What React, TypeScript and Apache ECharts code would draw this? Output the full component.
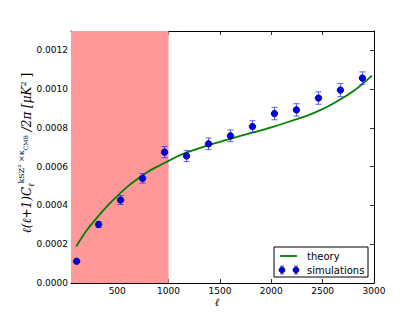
import React, { useEffect, useRef } from "react";
import * as echarts from "echarts";

const simEll = [105, 319, 533, 747, 961, 1175, 1389, 1603, 1817, 2031, 2245, 2459, 2673, 2887];
const simValues = [0.000112, 0.000302, 0.000428, 0.00054, 0.000675, 0.000655, 0.000718, 0.000759, 0.000807, 0.000874, 0.000893, 0.000954, 0.000995, 0.001057];
const simErrors = [0.000006, 0.000015, 0.000023, 0.000025, 0.000029, 0.000028, 0.00003, 0.00003, 0.00003, 0.000032, 0.000032, 0.000032, 0.000034, 0.000032];

const theoryEll = [100, 200, 300, 400, 500, 600, 700, 800, 900, 1000, 1100, 1200, 1400, 1600, 1800, 2000, 2200, 2400, 2600, 2800, 2980];
const theoryValues = [0.000188, 0.00027, 0.000335, 0.000395, 0.000448, 0.000497, 0.000538, 0.000574, 0.000603, 0.00063, 0.000657, 0.000678, 0.000713, 0.000744, 0.000773, 0.000803, 0.000837, 0.000874, 0.000925, 0.00099, 0.00107];

const shadedRange = [50, 1000];
const xTicks = [500, 1000, 1500, 2000, 2500, 3000];
const xRange = [50, 3000];
const yRange = [0, 0.0013];

export default function App() {
  const ref = useRef<HTMLDivElement>(null);
  useEffect(() => {
    if (!ref.current) return;
    const chart = echarts.init(ref.current, null, { renderer: "svg" });
    const tickFont = { fontFamily: "DejaVu Sans", fontSize: 9, color: "#000" };
    const mkLine = () => ({ show: true, onZero: false, lineStyle: { color: "#000", width: 1 } });
    const mkTick = (extra: any = {}) => ({ show: true, inside: true, length: 4, lineStyle: { color: "#000", width: 0.8 }, ...extra });
    const option: any = {
      animation: false,
      backgroundColor: "#fff",
      grid: { left: 71, right: 41, top: 31, bottom: 31, containLabel: false },
      xAxis: [
        {
          type: "value", min: xRange[0], max: xRange[1], position: "bottom",
          axisLine: mkLine(), axisTick: mkTick({ customValues: xTicks }),
          axisLabel: { ...tickFont, margin: 3, customValues: xTicks, formatter: (v: number) => String(v) },
          splitLine: { show: false },
        },
        {
          type: "value", min: xRange[0], max: xRange[1], position: "top",
          axisLine: mkLine(), axisTick: mkTick({ customValues: xTicks, inside: false, length: -4 }),
          axisLabel: { show: false }, splitLine: { show: false },
        },
      ],
      yAxis: [
        {
          type: "value", min: yRange[0], max: yRange[1], interval: 0.0002, position: "left",
          axisLine: mkLine(), axisTick: mkTick(),
          axisLabel: { ...tickFont, margin: 3, showMaxLabel: false, formatter: (v: number) => v.toFixed(4) },
          splitLine: { show: false },
        },
        {
          type: "value", min: yRange[0], max: yRange[1], interval: 0.0002, position: "right",
          axisLine: mkLine(), axisTick: mkTick({ inside: false, length: -4 }), axisLabel: { show: false }, splitLine: { show: false },
        },
      ],
      series: [
        {
          name: "theory", type: "line", xAxisIndex: 0, yAxisIndex: 0,
          data: theoryEll.map((l, i) => [l, theoryValues[i]]),
          showSymbol: false, smooth: 0.3,
          lineStyle: { color: "#008000", width: 1.8 },
          itemStyle: { color: "#008000" },
          markArea: {
            silent: true,
            itemStyle: { color: "#ff9999", opacity: 1 },
            data: [[{ xAxis: shadedRange[0] }, { xAxis: shadedRange[1] }]],
          },
          z: 3,
        },
        {
          name: "errors", type: "custom", xAxisIndex: 0, yAxisIndex: 0,
          data: simEll.map((l, i) => [l, simValues[i] - simErrors[i], simValues[i] + simErrors[i]]),
          renderItem: (params: any, api: any) => {
            const lo = api.coord([api.value(0), api.value(1)]);
            const hi = api.coord([api.value(0), api.value(2)]);
            const st = { stroke: "rgba(40,40,255,0.75)", lineWidth: 1 };
            return {
              type: "group",
              children: [
                { type: "line", shape: { x1: lo[0], y1: lo[1], x2: hi[0], y2: hi[1] }, style: st },
                { type: "line", shape: { x1: lo[0] - 3, y1: lo[1], x2: lo[0] + 3, y2: lo[1] }, style: st },
                { type: "line", shape: { x1: hi[0] - 3, y1: hi[1], x2: hi[0] + 3, y2: hi[1] }, style: st },
              ],
            };
          },
          z: 4,
        },
        {
          name: "simulations", type: "scatter", xAxisIndex: 0, yAxisIndex: 0,
          data: simEll.map((l, i) => [l, simValues[i]]),
          symbol: "circle", symbolSize: 6.5,
          itemStyle: { color: "#0000e6", borderColor: "#000050", borderWidth: 0.8, opacity: 1 },
          z: 5,
        },
      ],
      graphic: [
        {
          type: "text", x: 27, y: 153, rotation: Math.PI / 2,
          style: {
            text: "{m|ℓ(ℓ+1)C}{sub|ℓ}{sup|kSZ² ×κ}{ss|CMB}{m| /2π [μK}{sup2|2}{n| ]}",
            align: "center", verticalAlign: "middle",
            rich: {
              m: { fontFamily: "DejaVu Serif", fontStyle: "italic", fontSize: 12, fill: "#000", lineHeight: 20, verticalAlign: "middle" },
              n: { fontFamily: "DejaVu Serif", fontSize: 12, fill: "#000", lineHeight: 20, verticalAlign: "middle" },
              sub: { fontFamily: "DejaVu Serif", fontStyle: "italic", fontSize: 8, fill: "#000", lineHeight: 20, verticalAlign: "bottom", padding: [0, 0, 2, 0] },
              sup: { fontFamily: "DejaVu Serif", fontSize: 8, fill: "#000", lineHeight: 20, verticalAlign: "top" },
              sup2: { fontFamily: "DejaVu Serif", fontSize: 8, fill: "#000", lineHeight: 20, verticalAlign: "top", padding: [2, 0, 0, 0] },
              ss: { fontFamily: "DejaVu Serif", fontSize: 6, fill: "#000", lineHeight: 20, verticalAlign: "top", padding: [5, 0, 0, 0] },
            },
          },
        },
        {
          type: "text", x: 217, y: 302,
          style: { text: "ℓ", fontFamily: "DejaVu Serif", fontStyle: "italic", fontSize: 11, fill: "#000", align: "center", verticalAlign: "middle" },
        },
        {
          type: "group", x: 274, y: 247, z: 100,
          children: [
            { type: "rect", shape: { x: 0, y: 0, width: 94, height: 30 }, style: { fill: "#fff", stroke: "#000", lineWidth: 1 } },
            { type: "line", shape: { x1: 6, y1: 9, x2: 23, y2: 9 }, style: { stroke: "#008000", lineWidth: 1.8 } },
            { type: "text", x: 33, y: 9, style: { text: "theory", fontFamily: "DejaVu Sans", fontSize: 10, fill: "#000", verticalAlign: "middle" } },
            { type: "line", shape: { x1: 8, y1: 19, x2: 8, y2: 27 }, style: { stroke: "rgba(40,40,255,0.75)", lineWidth: 1 } },
            { type: "line", shape: { x1: 6, y1: 19, x2: 10, y2: 19 }, style: { stroke: "rgba(40,40,255,0.75)", lineWidth: 1 } },
            { type: "line", shape: { x1: 6, y1: 27, x2: 10, y2: 27 }, style: { stroke: "rgba(40,40,255,0.75)", lineWidth: 1 } },
            { type: "circle", shape: { cx: 8, cy: 23, r: 3 }, style: { fill: "#0000e6", stroke: "#000050", lineWidth: 0.8 } },
            { type: "line", shape: { x1: 22, y1: 19, x2: 22, y2: 27 }, style: { stroke: "rgba(40,40,255,0.75)", lineWidth: 1 } },
            { type: "line", shape: { x1: 20, y1: 19, x2: 24, y2: 19 }, style: { stroke: "rgba(40,40,255,0.75)", lineWidth: 1 } },
            { type: "line", shape: { x1: 20, y1: 27, x2: 24, y2: 27 }, style: { stroke: "rgba(40,40,255,0.75)", lineWidth: 1 } },
            { type: "circle", shape: { cx: 22, cy: 23, r: 3 }, style: { fill: "#0000e6", stroke: "#000050", lineWidth: 0.8 } },
            { type: "text", x: 33, y: 23, style: { text: "simulations", fontFamily: "DejaVu Sans", fontSize: 10, fill: "#000", verticalAlign: "middle" } },
          ],
        },
      ],
    };
    chart.setOption(option);
    return () => chart.dispose();
  }, []);
  return <div ref={ref} style={{ width: 415, height: 314, position: "absolute", left: 0, top: 0 }} />;
}
